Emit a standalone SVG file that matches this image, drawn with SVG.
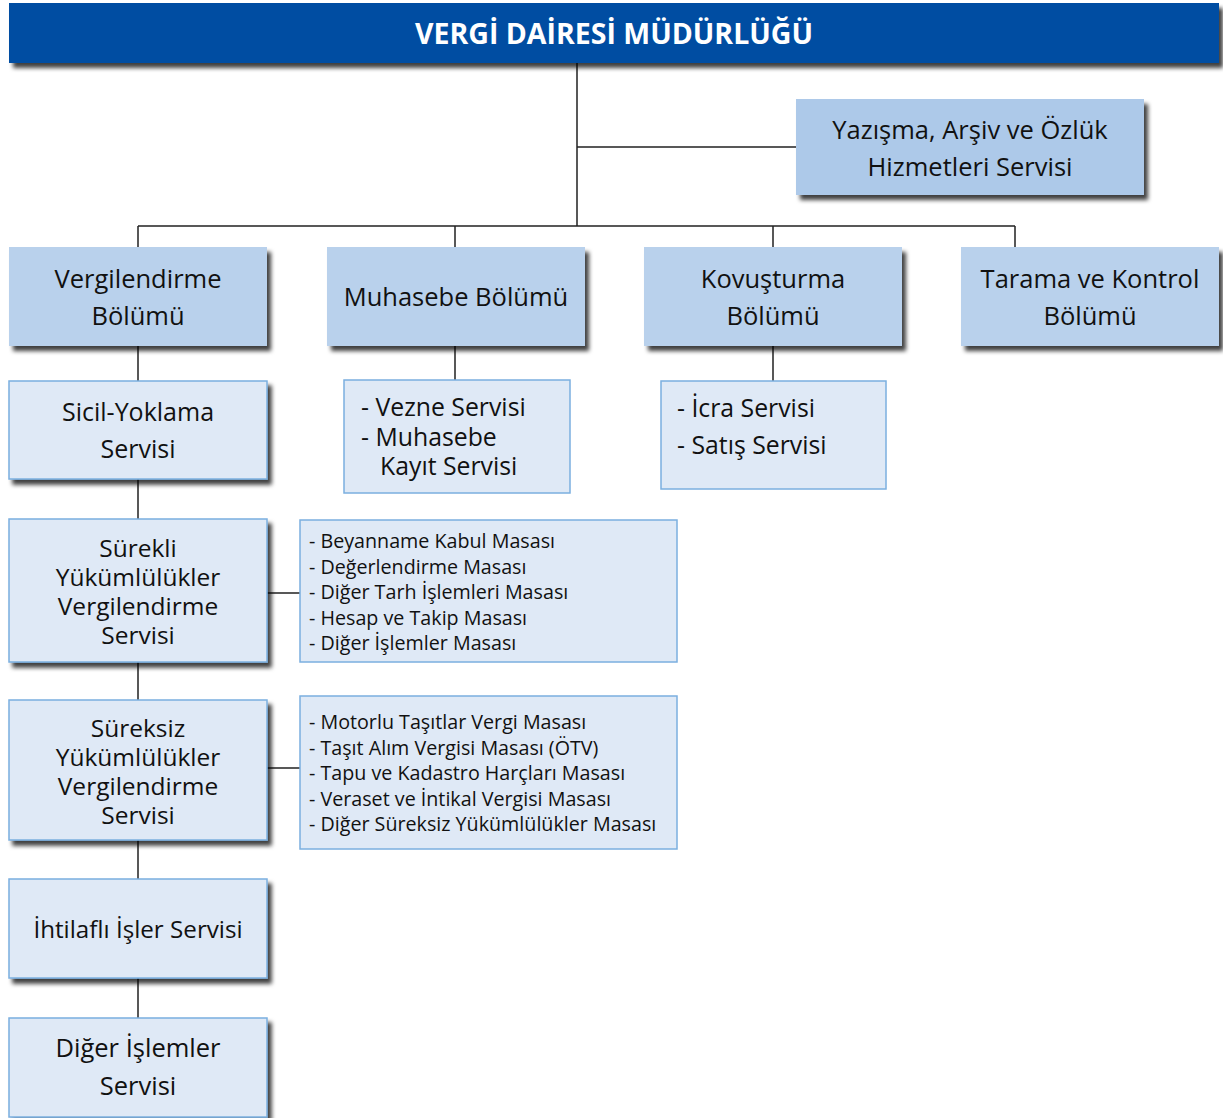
<svg xmlns="http://www.w3.org/2000/svg" width="1223" height="1118" viewBox="0 0 1223 1118">
<defs>
<filter id="sh" x="-5%" y="-10%" width="115%" height="130%">
<feDropShadow dx="4" dy="5" stdDeviation="2" flood-color="#000" flood-opacity="0.75"/>
</filter>
</defs>
<style>
text{font-family:"Open Sans","Noto Sans","DejaVu Sans",sans-serif;fill:#111;}
.hd{fill:#034EA2;}
.l2{fill:#B9D1EC;}
.l3{fill:#DFE9F6;stroke:#7BAFDF;stroke-width:1.5;}
.c{text-anchor:middle;font-size:25.5px;}
.c4{text-anchor:middle;font-size:24.5px;}
.m{font-size:24.8px;}
.s{font-size:19.7px;}
.ln{stroke:#222;stroke-width:1.5;fill:none;}
</style>
<rect width="1223" height="1118" fill="#fff"/>
<g id="connectors">
<path class="ln" d="M577 63V226M577 147H796M138 226H1015M138 226V247M455 226V247M773 226V247M1015 226V247"/>
<path class="ln" d="M138 346V381M138 479V519M138 662V700M138 840V879M138 978V1018"/>
<path class="ln" d="M455 346V380M773 346V381"/>
<path class="ln" d="M267 593H300M267 768H300"/>
</g>
<g id="n-header"><rect class="hd" x="9" y="3" width="1210" height="60" filter="url(#sh)"/>
<text x="614" y="44" text-anchor="middle" style="font-size:28.5px;font-weight:bold;fill:#fff">VERGİ DAİRESİ MÜDÜRLÜĞÜ</text></g>
<g id="n-yazisma"><rect x="796" y="99" width="348" height="96" fill="#ADC9E9" filter="url(#sh)"/>
<text class="c" y="139"><tspan x="970">Yazışma, Arşiv ve Özlük</tspan><tspan x="970" dy="37">Hizmetleri Servisi</tspan></text></g>
<g id="n-vergilendirme"><rect class="l2" x="9" y="247" width="258" height="99" filter="url(#sh)"/>
<text class="c" y="288"><tspan x="138">Vergilendirme</tspan><tspan x="138" dy="37">Bölümü</tspan></text></g>
<g id="n-muhasebe"><rect class="l2" x="327" y="247" width="258" height="99" filter="url(#sh)"/>
<text class="c" x="456" y="306">Muhasebe Bölümü</text></g>
<g id="n-kovusturma"><rect class="l2" x="644" y="247" width="258" height="99" filter="url(#sh)"/>
<text class="c" y="288"><tspan x="773">Kovuşturma</tspan><tspan x="773" dy="37">Bölümü</tspan></text></g>
<g id="n-tarama"><rect class="l2" x="961" y="247" width="258" height="99" filter="url(#sh)"/>
<text class="c" y="288"><tspan x="1090">Tarama ve Kontrol</tspan><tspan x="1090" dy="37">Bölümü</tspan></text></g>
<g id="n-sicil"><rect class="l3" x="9" y="381" width="258" height="98" filter="url(#sh)"/>
<text class="c" y="421" style="font-size:25px"><tspan x="138">Sicil-Yoklama</tspan><tspan x="138" dy="37">Servisi</tspan></text></g>
<g id="n-surekli"><rect class="l3" x="9" y="519" width="258" height="143" filter="url(#sh)"/>
<text class="c4" y="557"><tspan x="138">Sürekli</tspan><tspan x="138" dy="29">Yükümlülükler</tspan><tspan x="138" dy="29">Vergilendirme</tspan><tspan x="138" dy="29">Servisi</tspan></text></g>
<g id="n-sureksiz"><rect class="l3" x="9" y="700" width="258" height="140" filter="url(#sh)"/>
<text class="c4" y="737"><tspan x="138">Süreksiz</tspan><tspan x="138" dy="29">Yükümlülükler</tspan><tspan x="138" dy="29">Vergilendirme</tspan><tspan x="138" dy="29">Servisi</tspan></text></g>
<g id="n-ihtilafli"><rect class="l3" x="9" y="879" width="258" height="99" filter="url(#sh)"/>
<text class="c" x="138" y="938" style="font-size:24.2px">İhtilaflı İşler Servisi</text></g>
<g id="n-diger"><rect class="l3" x="9" y="1018" width="258" height="99" filter="url(#sh)"/>
<text class="c" y="1057"><tspan x="138">Diğer İşlemler</tspan><tspan x="138" dy="38">Servisi</tspan></text></g>
<g id="n-vezne"><rect class="l3" x="344" y="380" width="226" height="113"/>
<text class="m" y="416"><tspan x="361">- Vezne Servisi</tspan><tspan x="361" dy="30">- Muhasebe</tspan><tspan x="380" dy="29">Kayıt Servisi</tspan></text></g>
<g id="n-icra"><rect class="l3" x="661" y="381" width="225" height="108"/>
<text class="m" y="417"><tspan x="677">- İcra Servisi</tspan><tspan x="677" dy="37">- Satış Servisi</tspan></text></g>
<g id="n-masalar1"><rect class="l3" x="300" y="520" width="377" height="142"/>
<text class="s" y="548"><tspan x="309">- Beyanname Kabul Masası</tspan><tspan x="309" dy="25.5">- Değerlendirme Masası</tspan><tspan x="309" dy="25.5">- Diğer Tarh İşlemleri Masası</tspan><tspan x="309" dy="25.5">- Hesap ve Takip Masası</tspan><tspan x="309" dy="25.5">- Diğer İşlemler Masası</tspan></text></g>
<g id="n-masalar2"><rect class="l3" x="300" y="696" width="377" height="153"/>
<text class="s" y="729"><tspan x="309">- Motorlu Taşıtlar Vergi Masası</tspan><tspan x="309" dy="25.5">- Taşıt Alım Vergisi Masası (ÖTV)</tspan><tspan x="309" dy="25.5">- Tapu ve Kadastro Harçları Masası</tspan><tspan x="309" dy="25.5">- Veraset ve İntikal Vergisi Masası</tspan><tspan x="309" dy="25.5">- Diğer Süreksiz Yükümlülükler Masası</tspan></text></g>
</svg>
